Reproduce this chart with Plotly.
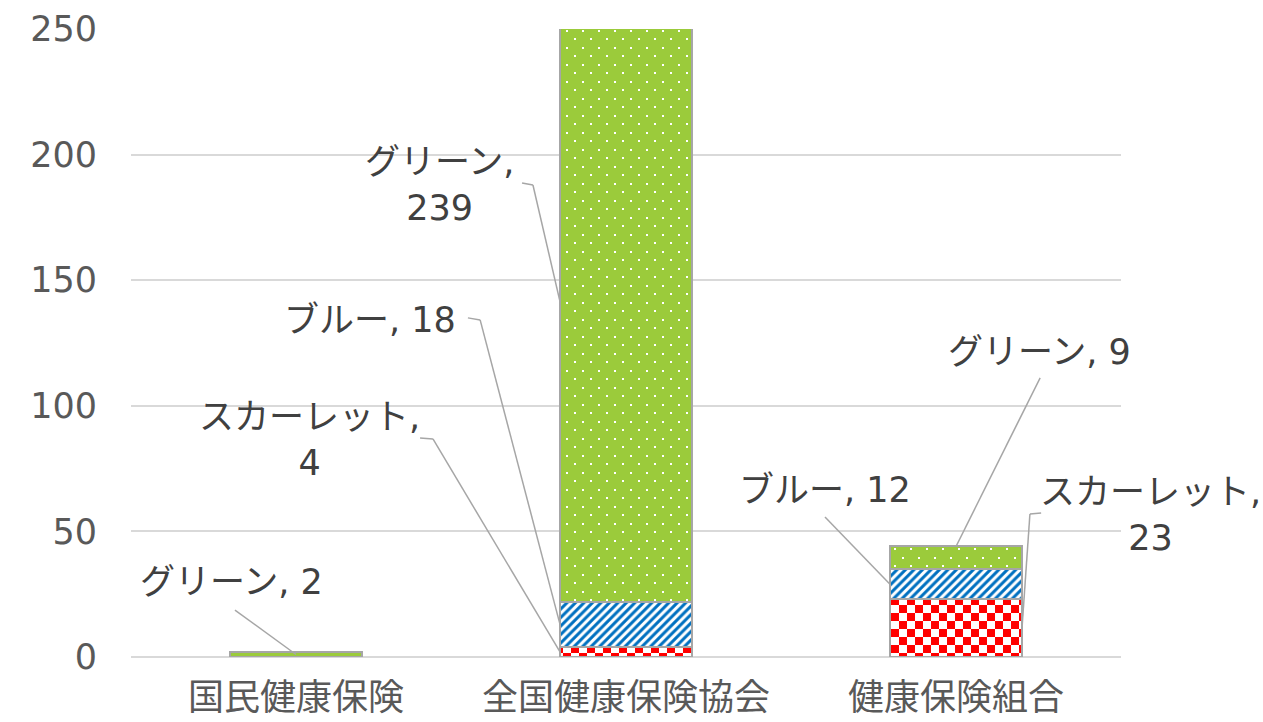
import plotly.graph_objects as go

categories = ["国民健康保険", "全国健康保険協会", "健康保険組合"]
series_names = ["スカーレット", "ブルー", "グリーン"]
scarlet = [0, 4, 23]
blue = [0, 18, 12]
green = [2, 239, 9]
y_ticks = [0, 50, 100, 150, 200, 250]

series_values = [scarlet, blue, green]

FONT = "DejaVu Sans, Noto Sans CJK JP, sans-serif"

styles = [
    dict(shape="+", fgcolor="#ff0000", bgcolor="#ffffff", size=16, solidity=0.5),
    dict(shape="/", fgcolor="#0070c0", bgcolor="#ffffff", size=6, solidity=0.5),
    dict(shape=".", fgcolor="#ffffff", bgcolor="#9bcb3b", size=11, solidity=0.04),
]

fig = go.Figure()
for name, vals, st in zip(series_names, series_values, styles):
    fig.add_trace(go.Bar(
        x=list(range(len(categories))), y=vals, name=name,
        marker=dict(color=st["bgcolor"], line=dict(color="#a6a6a6", width=2),
                    pattern=dict(shape=st["shape"], fgcolor=st["fgcolor"],
                                 bgcolor=st["bgcolor"], size=st["size"],
                                 solidity=st["solidity"], fillmode="replace")),
        showlegend=False, hoverinfo="skip",
    ))

# label layout (positions only):
# (series idx, category idx, edge offset, anchor_mode, text x, text y, multiline,
#  leader start (x, y), leader corner (x, y) or None)
label_layout = [
    (2, 0, 0.0, "mid", -0.194, 29.9, False, (-0.185, 18.7), None),
    (2, 1, -0.2, "mid", 0.436, 187.9, True, (0.685, 188.7), (0.718, 187.9)),
    (1, 1, -0.2, "mid", 0.224, 134.2, False, (0.521, 135.0), (0.558, 134.2)),
    (0, 1, -0.2, "mid", 0.042, 86.4, True, (0.376, 87.2), (0.415, 86.8)),
    (1, 2, -0.2, "mid", 1.603, 66.5, False, (1.603, 55.7), None),
    (2, 2, 0.0, "top", 2.252, 121.4, False, (2.255, 111.1), None),
    (0, 2, 0.2, "mid", 2.588, 56.5, True, (2.258, 57.3), (2.224, 56.9)),
]

LEADER = dict(color="#a6a6a6", width=1.5)
n_cat = len(categories)

for si, ci, off, mode, tx, ty, multi, start, corner in label_layout:
    base = sum(series_values[k][ci] for k in range(si))
    v = series_values[si][ci]
    target_y = base + v if mode == "top" else base + v / 2
    target_x = ci + off
    sep = ",<br>" if multi else ", "
    fig.add_annotation(
        x=(tx + 0.5) / n_cat, y=ty, xref="paper", yref="y",
        xanchor="center", yanchor="middle",
        text=f"{series_names[si]}{sep}{v}",
        showarrow=False,
        font=dict(family=FONT, size=35, color="#404040"),
        align="center",
    )
    pts = [start] + ([corner] if corner else []) + [(target_x, target_y)]
    for (x0, y0), (x1, y1) in zip(pts[:-1], pts[1:]):
        fig.add_shape(type="line", xref="x", yref="y",
                      x0=x0, y0=y0, x1=x1, y1=y1, line=LEADER, layer="above")

fig.update_layout(
    barmode="stack", bargap=0.6,
    width=1263, height=722,
    margin=dict(l=131, r=142, t=29, b=65),
    plot_bgcolor="#ffffff", paper_bgcolor="#ffffff",
    font=dict(family=FONT, color="#595959"),
)
fig.update_xaxes(
    tickmode="array", tickvals=list(range(n_cat)), ticktext=categories,
    range=[-0.5, n_cat - 0.5],
    showgrid=False, showline=False, zeroline=False, automargin=False,
    tickfont=dict(size=36, color="#595959", family=FONT),
    ticks="outside", ticklen=9, tickcolor="rgba(0,0,0,0)",
)
fig.update_yaxes(
    range=[0, 250], tickvals=y_ticks, automargin=False,
    showgrid=True, gridcolor="#d9d9d9", gridwidth=1.5,
    zeroline=True, zerolinecolor="#d9d9d9", zerolinewidth=1.5,
    showline=False,
    tickfont=dict(size=35, color="#595959", family=FONT),
    ticks="outside", ticklen=26, tickcolor="rgba(0,0,0,0)",
)

post = """
(function(){
  document.body.style.margin = '0';
  document.body.style.overflow = 'hidden';
  var ns = 'http://www.w3.org/2000/svg';
  function rect(pat,x,y,w,h,c){var e=document.createElementNS(ns,'rect');e.setAttribute('x',x);e.setAttribute('y',y);e.setAttribute('width',w);e.setAttribute('height',h);e.setAttribute('fill',c);pat.appendChild(e);}
  var tiles = {
    0: function(pat){ pat.setAttribute('width',16); pat.setAttribute('height',16);
        rect(pat,0,0,16,16,'#ffffff'); rect(pat,0,0,8,8,'#ff0000'); rect(pat,8,8,8,8,'#ff0000'); },
    2: function(pat){ pat.setAttribute('width',16); pat.setAttribute('height',17);
        rect(pat,0,0,16,17,'#9bcb3b'); rect(pat,3,1,2,2,'#ffffff'); rect(pat,11,9,2,2,'#ffffff'); }
  };
  function fix(){
    var gd = document.getElementById('{plot_id}');
    if(!gd) return;
    var traces = gd.querySelectorAll('.barlayer .trace');
    Object.keys(tiles).forEach(function(k){
      var tr = traces[+k]; if(!tr) return;
      tr.querySelectorAll('path').forEach(function(p){
        var f = p.style.fill || p.getAttribute('fill') || '';
        var m = f.match(/#([^'")]+)/);
        if(!m) return;
        var pat = document.getElementById(m[1]);
        if(!pat || pat.getAttribute('data-custom')) return;
        while(pat.firstChild) pat.removeChild(pat.firstChild);
        pat.setAttribute('data-custom','1');
        tiles[k](pat);
      });
    });
  }
  var gd = document.getElementById('{plot_id}');
  fix();
  if(gd && gd.on) gd.on('plotly_afterplot', fix);
  setTimeout(fix, 50); setTimeout(fix, 300);
})();
"""

fig.write_html("out.html", post_script=post, config={"displayModeBar": False})
